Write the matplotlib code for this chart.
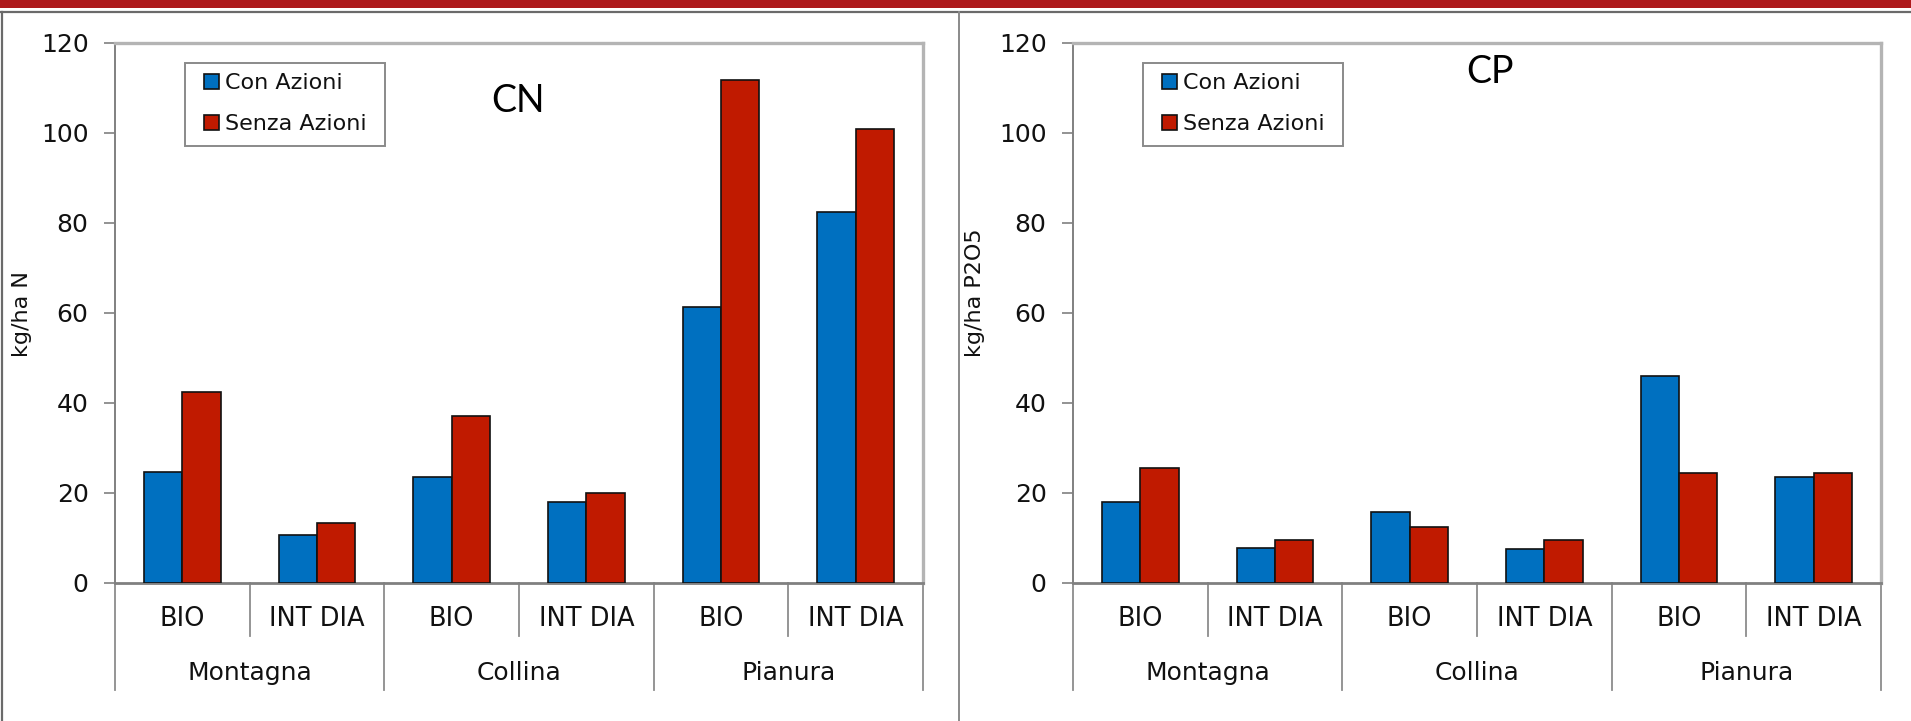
import matplotlib
matplotlib.use("Agg")
import matplotlib.pyplot as plt
from matplotlib.lines import Line2D
from matplotlib.patches import Rectangle
import numpy as np

# ---- data ----
subcats = ["BIO", "INT DIA", "BIO", "INT DIA", "BIO", "INT DIA"]
groups = ["Montagna", "Collina", "Pianura"]
series = ["Con Azioni", "Senza Azioni"]

cn_con = [24.5, 10.6, 23.6, 18.0, 61.2, 82.3]
cn_senza = [42.3, 13.2, 37.0, 19.9, 111.7, 100.8]

cp_con = [18.0, 7.8, 15.8, 7.4, 45.9, 23.4]
cp_senza = [25.6, 9.5, 12.3, 9.5, 24.4, 24.3]

yticks = [0, 20, 40, 60, 80, 100, 120]

BLUE = "#0070C0"
RED = "#C01A00"
W, H = 1911, 721

plt.rcParams['font.family'] = ['DejaVu Sans']
fig = plt.figure(figsize=(W / 100, H / 100), dpi=100)
fig.patch.set_facecolor("white")


def fx(px):
    return px / W


def fy(py):
    return 1 - py / H


# frame decorations
fig.add_artist(Rectangle((0, fy(8)), 1, 8 / H, transform=fig.transFigure,
                         facecolor="#AE1A1C", edgecolor="none"))
fig.add_artist(Line2D([0, 1], [fy(12), fy(12)], transform=fig.transFigure,
                      color="#6a6a6a", lw=1.6))
fig.add_artist(Line2D([fx(2), fx(2)], [fy(12), 0], transform=fig.transFigure,
                      color="#6a6a6a", lw=1.6))
fig.add_artist(Line2D([fx(959), fx(959)], [fy(12), 0], transform=fig.transFigure,
                      color="#8a8a8a", lw=1.4))


def panel(x0, con, senza, ylabel, ylabel_xy, title, title_xy):
    x1 = x0 + 808
    ytop, ybot = 42.7, 582.7
    ax = fig.add_axes([fx(x0), fy(ybot), (x1 - x0) / W, (ybot - ytop) / H])
    x = np.arange(len(subcats))
    bw = 0.285
    ax.bar(x - bw / 2, con, bw, color=BLUE, edgecolor="#111111", lw=1.2,
           label=series[0], zorder=3)
    ax.bar(x + bw / 2, senza, bw, color=RED, edgecolor="#111111", lw=1.2,
           label=series[1], zorder=3)
    ax.set_xlim(-0.5, len(subcats) - 0.5)
    ax.set_ylim(0, 120)
    ax.set_yticks(yticks)
    ax.tick_params(axis="y", length=8, width=1.2, color="#808080", pad=11,
                   labelsize=18, labelcolor="#111111", direction="out")
    ax.set_xticks([])
    for s in ["top", "right"]:
        ax.spines[s].set_color("#b4b4b4")
        ax.spines[s].set_linewidth(2.4)
    ax.spines["left"].set_color("#808080")
    ax.spines["left"].set_linewidth(1.4)
    ax.spines["bottom"].set_color("#808080")
    ax.spines["bottom"].set_linewidth(2.0)

    tr = ax.get_xaxis_transform()
    h_short = -(636 - ybot) / (ybot - ytop)
    h_long = -(690 - ybot) / (ybot - ytop)
    for i in range(len(subcats) + 1):
        xb = i - 0.5
        low = h_long if i % 2 == 0 else h_short
        ax.plot([xb, xb], [0, low], transform=tr, color="#8c8c8c", lw=1.3,
                clip_on=False)
    y_sub = -(619 - ybot) / (ybot - ytop)
    y_grp = -(673 - ybot) / (ybot - ytop)
    for i, lab in enumerate(subcats):
        ax.text(i, y_sub, lab, transform=tr, ha="center", va="center",
                fontsize=18.5, color="#111111")
    for g, lab in enumerate(groups):
        ax.text(2 * g + 0.5, y_grp, lab, transform=tr, ha="center",
                va="center", fontsize=18, color="#111111")

    # legend: frame drawn as a box behind the legend entries
    lx0, lx1, ly0, ly1 = x0 + 70, x0 + 270, 62.7, 146
    box = Rectangle((fx(lx0), fy(ly1)), (lx1 - lx0) / W, (ly1 - ly0) / H,
                    transform=fig.transFigure, facecolor="white",
                    edgecolor="#8a8a8a", lw=1.4, zorder=4.5, clip_on=False)
    ax.add_patch(box)
    leg = ax.legend(loc="upper left",
                    bbox_to_anchor=((lx0 + 19 - x0) / 808,
                                    (ybot - 73) / (ybot - ytop)),
                    borderaxespad=0, frameon=False, fontsize=16,
                    handlelength=0.66, handleheight=0.66, handletextpad=0.28,
                    labelspacing=0.95, borderpad=0)
    leg.set_zorder(6)
    for t in leg.get_texts():
        t.set_color("#111111")

    fig.text(fx(ylabel_xy[0]), fy(ylabel_xy[1]), ylabel, rotation=90,
             ha="center", va="center", fontsize=16, color="#111111")
    fig.text(fx(title_xy[0]), fy(title_xy[1]), title, ha="center",
             va="center", fontsize=27, family=["Lato", "DejaVu Sans"],
             color="black")
    return ax


panel(115, cn_con, cn_senza, "kg/ha N", (22, 314), "CN", (518, 101))
panel(1073, cp_con, cp_senza, "kg/ha P2O5", (975, 293), "CP", (1490, 72))

fig.savefig("out.png", dpi=100, facecolor="white")
